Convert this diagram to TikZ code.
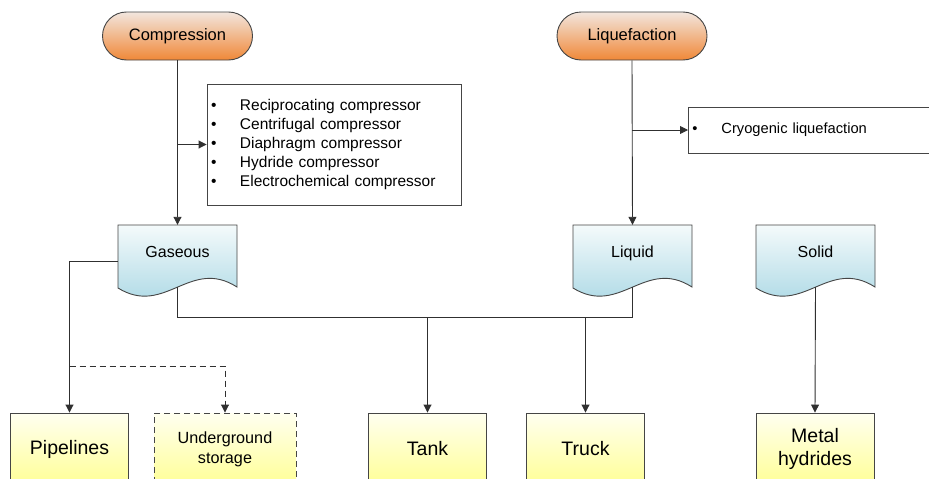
\documentclass[tikz,border=0pt]{standalone}
\usepackage{fontspec}
\setmainfont{Liberation Sans}
\usetikzlibrary{arrows.meta}

\definecolor{linec}{HTML}{303030}
\definecolor{edgec}{HTML}{454545}
\definecolor{pillTop}{HTML}{F2E6DE}
\definecolor{pillBot}{HTML}{F08838}
\definecolor{docTop}{HTML}{F4FAFB}
\definecolor{docBot}{HTML}{A2D4E2}
\definecolor{boxTop}{HTML}{FFFFF0}
\definecolor{boxBot}{HTML}{FFFF96}

% wavy "document" outline: #1 = left x, #2 = top y
\newcommand\docoutline[2]{%
  \shade[draw=edgec, line width=0.9pt, top color=docTop, bottom color=docBot]
    (#1,#2) -- (#1+119,#2) -- (#1+119,#2+62)
    .. controls (#1+72,#2+32) and (#1+47,#2+92) .. (#1,#2+63) -- cycle;}

\tikzset{
  pill/.style={draw=edgec, line width=0.9pt, rounded corners=24pt,
    minimum width=150pt, minimum height=48pt, inner sep=0pt,
    top color=pillTop, bottom color=pillBot, font=\fontsize{16.5}{19}\selectfont},
  docnode/.style={minimum width=119pt, minimum height=72pt, inner sep=0pt,
    text height=10pt, text depth=18pt, font=\fontsize{16}{19}\selectfont},
  store/.style={draw=edgec, line width=0.9pt, minimum width=118pt, minimum height=72pt,
    inner sep=0pt, align=center, top color=boxTop, bottom color=boxBot},
  listbox/.style={draw=edgec, line width=0.9pt, fill=white, align=left,
    inner xsep=4pt, inner ysep=0pt},
  conn/.style={draw=linec, line width=0.9pt},
  arr/.style={conn, -{Triangle[length=8pt,width=8pt]}},
  dashline/.style={dash pattern=on 6pt off 4pt},
}
\newcommand\itm[1]{\makebox[29pt][l]{\textbullet}#1}

\begin{document}
\begin{tikzpicture}[x=1pt, y=-1pt]
\useasboundingbox (0,0) rectangle (929,479);
\clip (0,0) rectangle (929,479);

% process ovals
\node[pill] (comp) at (177.5,36) {Compression};
\node[pill] (liqf) at (632,36) {Liquefaction};

% technology lists
\node[listbox, text width=246pt, minimum height=121pt,
      font=\fontsize{15.5}{18.8}\selectfont] (list) at (334,144.5)
  {\itm{Reciprocating compressor}\\ \itm{Centrifugal compressor}\\
   \itm{Diaphragm compressor}\\ \itm{Hydride compressor}\\
   \itm{Electrochemical compressor}};
\node[listbox, anchor=west, text width=244pt, minimum height=46pt,
      font=\fontsize{14.7}{18}\selectfont] (cryo) at (688,130)
  {\itm{Cryogenic liquefaction}};

% hydrogen states
\docoutline{118}{225}
\node[docnode] (gas) at (177.5,261) {Gaseous};
\docoutline{573}{225}
\node[docnode] (liq) at (632.5,261) {Liquid};
\docoutline{756}{225}
\node[docnode] (sol) at (815.5,261) {Solid};

% storage options
\node[store, font=\fontsize{19.5}{23}\selectfont] (pipe) at (69.5,449) {Pipelines};
\node[store, dashline, minimum width=142pt, font=\fontsize{16.2}{20}\selectfont]
  (under) at (225,449) {Underground\\storage};
\node[store, font=\fontsize{19.5}{23}\selectfont] (tank) at (427.5,449) {Tank};
\node[store, font=\fontsize{19.5}{23}\selectfont] (truck) at (585.5,449) {Truck};
\node[store, font=\fontsize{19.5}{23}\selectfont] (metal) at (815,449) {Metal\\hydrides};

\coordinate (bus) at (0,317);
\coordinate (split) at (0,366);

% connectors
\draw[arr] (comp.south) -- (gas.north);
\draw[arr] (comp.south |- list.west) -- (list.west);
\draw[arr] (liqf.south) -- (liq.north);
\draw[arr] (liqf.south |- cryo.west) -- (cryo.west);

\draw[arr] (gas.west) -| (pipe.north);
\draw[arr, dashline] (pipe.north |- split) -| (under.north);

\draw[conn] ([yshift=10pt]gas.south) |- (liq.south |- bus) -- ([yshift=10pt]liq.south);
\draw[arr] (tank.north |- bus) -- (tank.north);
\draw[arr] (truck.north |- bus) -- (truck.north);
\draw[arr] ([yshift=10pt]sol.south) -- (metal.north);
\end{tikzpicture}
\end{document}
